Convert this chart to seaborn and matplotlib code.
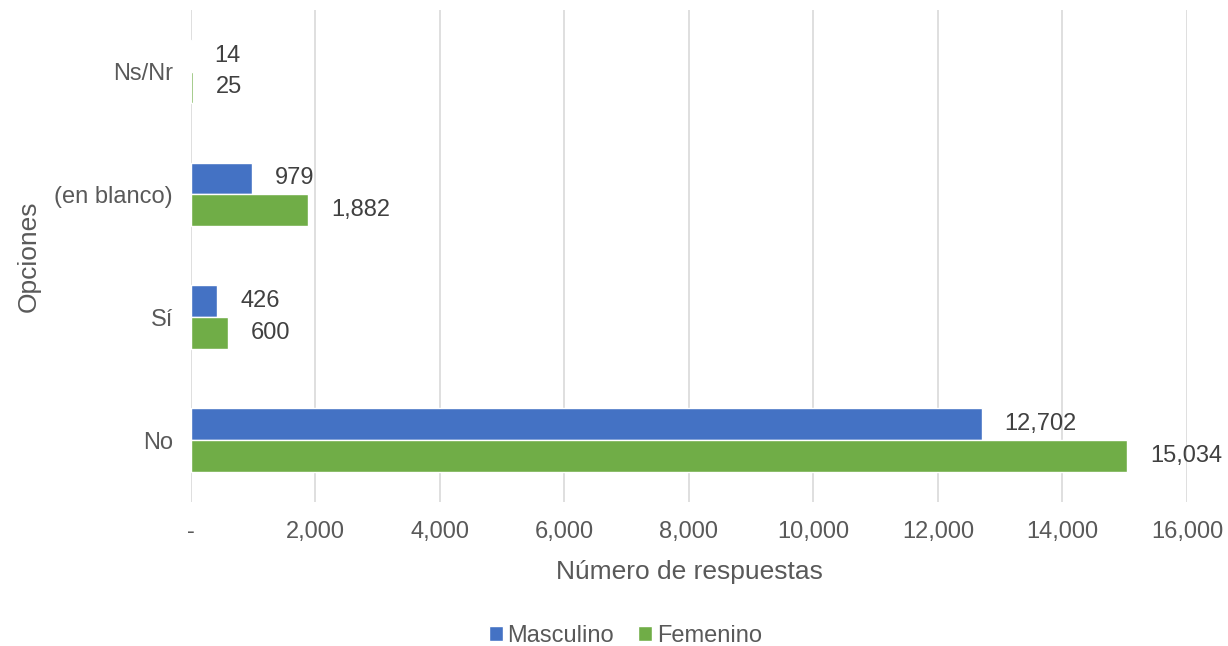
import numpy as np
import pandas as pd
import matplotlib
matplotlib.use('Agg')
import matplotlib.pyplot as plt
import seaborn as sns
from matplotlib.ticker import FuncFormatter

# DATA
opciones = ['Ns/Nr', '(en blanco)', 'Sí', 'No']
masculino = [14, 979, 426, 12702]
femenino = [25, 1882, 600, 15034]
series = ['Masculino', 'Femenino']
colores = ['#4472C4', '#70AD47']

df = pd.DataFrame({
    'Opciones': opciones * 2,
    'Sexo': [series[0]] * len(opciones) + [series[1]] * len(opciones),
    'Respuestas': masculino + femenino,
})

sns.set_style('white')
plt.rcParams['font.family'] = ['Liberation Sans', 'DejaVu Sans']
gris = '#595959'

fig = plt.figure(figsize=(12.28, 6.46), dpi=100)
ax = fig.add_axes([0.1555, 0.223, 0.8111, 0.7615])

sns.barplot(data=df, y='Opciones', x='Respuestas', hue='Sexo', order=opciones,
            hue_order=series, palette=colores, width=0.52, orient='h',
            saturation=1, ax=ax, legend=True)

# etiquetas de datos
for cont in ax.containers:
    ax.bar_label(cont, labels=[f'{v:,.0f}' for v in cont.datavalues],
                 padding=16.5, fontsize=17, color='#404040')

ax.set_xlim(0, 16000)
ax.set_xticks(np.arange(0, 16001, 2000))
ax.xaxis.set_major_formatter(FuncFormatter(lambda v, p: '-' if v == 0 else f'{v:,.0f}'))
ax.grid(axis='x', color='#D9D9D9', linewidth=1.2)
ax.set_axisbelow(True)
for s in ax.spines.values():
    s.set_visible(False)
ax.tick_params(axis='both', length=0, labelsize=17, labelcolor=gris, pad=14)
ax.tick_params(axis='y', pad=13)

ax.set_xlabel('Número de respuestas', fontsize=19, color=gris, labelpad=12)
ax.set_ylabel('Opciones', fontsize=19, color=gris, labelpad=10)

ax.legend(loc='center', bbox_to_anchor=(0.436, -0.272), ncol=2, frameon=False,
          fontsize=17, labelcolor=gris, handlelength=0.6, handleheight=0.6,
          handletextpad=0.2, columnspacing=1.0)

fig.savefig('out.png', dpi=100)
